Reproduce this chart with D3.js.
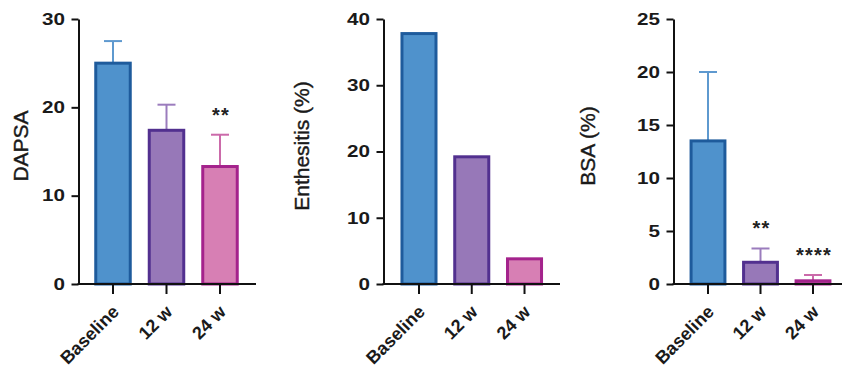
<!DOCTYPE html>
<html>
<head>
<meta charset="utf-8">
<script src="https://cdn.jsdelivr.net/npm/d3@7"></script>
<style>
  html, body { margin: 0; padding: 0; background: #fff; }
  svg { display: block; }
  text { font-family: "Liberation Sans", Arial, sans-serif; }
</style>
</head>
<body>
<svg id="chart" width="842" height="369"></svg>
<script>
// Visit categories shared by all three panels
const categories = ["Baseline", "12 w", "24 w"];

// DAPSA: mean and upper error (SD) per visit
const dapsaMean = [25.0, 17.4, 13.3];
const dapsaErr = [2.5, 2.9, 3.6];
const dapsaTicks = [0, 10, 20, 30];
const dapsaStars = ["", "", "**"];

// Enthesitis prevalence (%) per visit
const enthesitis = [37.8, 19.2, 3.8];
const enthTicks = [0, 10, 20, 30, 40];

// BSA (%): mean and upper error per visit
const bsaMean = [13.5, 2.05, 0.3];
const bsaErr = [6.5, 1.3, 0.55];
const bsaTicks = [0, 5, 10, 15, 20, 25];
const bsaStars = ["", "**", "****"];

// Colours per visit
const fills = ["#4f92cc", "#9778b8", "#d77fb4"];
const strokes = ["#1e5b9c", "#52308f", "#a4238c"];
const errColors = ["#5e99cf", "#9b7cbd", "#cb6aaa"];

const svg = d3.select("#chart");

const panels = [
  { label: "DAPSA", mean: dapsaMean, err: dapsaErr, ticks: dapsaTicks, max: 30, stars: dapsaStars,
    axisX: 78.5, axisEnd: 256, bandStart: 86.25, bandEnd: 246.75, labelX: 21 },
  { label: "Enthesitis (%)", mean: enthesitis, err: null, ticks: enthTicks, max: 40, stars: null,
    axisX: 383.5, axisEnd: 560, bandStart: 392.6, bandEnd: 550.9, labelX: 302 },
  { label: "BSA (%)", mean: bsaMean, err: bsaErr, ticks: bsaTicks, max: 25, stars: bsaStars,
    axisX: 673.5, axisEnd: 842, bandStart: 681.75, bandEnd: 839.25, labelX: 588 }
];

const yTop = 19, yBottom = 284, titleY = 146;
const tickXScale = 1.25;

panels.forEach(p => {
  const g = svg.append("g");
  const y = d3.scaleLinear().domain([0, p.max]).range([yBottom, yTop]);
  const x = d3.scaleBand().domain(categories).range([p.bandStart, p.bandEnd])
    .paddingInner(0.355).paddingOuter(0.1775);

  // error bars (drawn first, bar covers the lower half)
  if (p.err) {
    const eg = g.append("g");
    categories.forEach((c, i) => {
      const cx = x(c) + x.bandwidth() / 2;
      const top = y(p.mean[i] + p.err[i]);
      eg.append("line").attr("x1", cx).attr("x2", cx)
        .attr("y1", y(p.mean[i])).attr("y2", top)
        .attr("stroke", errColors[i]).attr("stroke-width", 2);
      eg.append("line").attr("x1", cx - 9).attr("x2", cx + 9)
        .attr("y1", top).attr("y2", top)
        .attr("stroke", errColors[i]).attr("stroke-width", 2);
    });
  }

  // bars
  g.selectAll("rect.bar").data(categories).enter().append("rect")
    .attr("class", "bar")
    .attr("x", c => x(c))
    .attr("width", x.bandwidth())
    .attr("y", (c, i) => y(p.mean[i]))
    .attr("height", (c, i) => y(0) - y(p.mean[i]))
    .attr("fill", (c, i) => fills[i])
    .attr("stroke", (c, i) => strokes[i])
    .attr("stroke-width", 3);

  // significance marks
  if (p.stars) {
    categories.forEach((c, i) => {
      if (!p.stars[i]) return;
      const cx = x(c) + x.bandwidth() / 2;
      g.append("text").attr("x", cx + 1).attr("y", y(p.mean[i] + p.err[i]) - 13)
        .attr("text-anchor", "middle")
        .attr("font-size", 20).attr("font-weight", "bold").attr("fill", "#222")
        .attr("letter-spacing", 1.2)
        .text(p.stars[i]);
    });
  }

  // y axis
  const ya = g.append("g").attr("transform", `translate(${p.axisX},0)`)
    .call(d3.axisLeft(y).tickValues(p.ticks).tickSize(7).tickSizeOuter(0).tickPadding(6));
  ya.select(".domain").attr("stroke", "#111").attr("stroke-width", 2);
  ya.selectAll(".tick line").attr("stroke", "#111").attr("stroke-width", 2);
  ya.selectAll(".tick text").attr("font-size", 16.5).attr("font-weight", "bold")
    .attr("fill", "#1a1a1a").attr("font-family", "Liberation Sans, Arial, sans-serif")
    .attr("x", -13.5 / tickXScale)
    .attr("transform", `scale(${tickXScale},1)`);

  // x axis
  const xa = g.append("g").attr("transform", `translate(0,${yBottom})`)
    .call(d3.axisBottom(x).tickSize(10).tickSizeOuter(0).tickPadding(4));
  xa.select(".domain").remove();
  xa.selectAll(".tick line").attr("stroke", "#111").attr("stroke-width", 2);
  xa.selectAll(".tick text")
    .attr("font-size", 18).attr("font-weight", "bold").attr("fill", "#1a1a1a")
    .attr("font-family", "Liberation Sans, Arial, sans-serif")
    .attr("text-anchor", "end")
    .attr("y", 0).attr("dy", null)
    .attr("transform", "translate(7,29) rotate(-45)");
  g.append("line").attr("x1", p.axisX - 1).attr("x2", p.axisEnd)
    .attr("y1", yBottom).attr("y2", yBottom)
    .attr("stroke", "#111").attr("stroke-width", 2);

  // y axis title
  g.append("text")
    .attr("transform", `translate(${p.labelX},${titleY}) rotate(-90)`)
    .attr("text-anchor", "middle").attr("dy", "0.35em")
    .attr("font-size", 21).attr("fill", "#1a1a1a")
    .attr("stroke", "#1a1a1a").attr("stroke-width", 0.4)
    .text(p.label);
});
</script>
</body>
</html>
